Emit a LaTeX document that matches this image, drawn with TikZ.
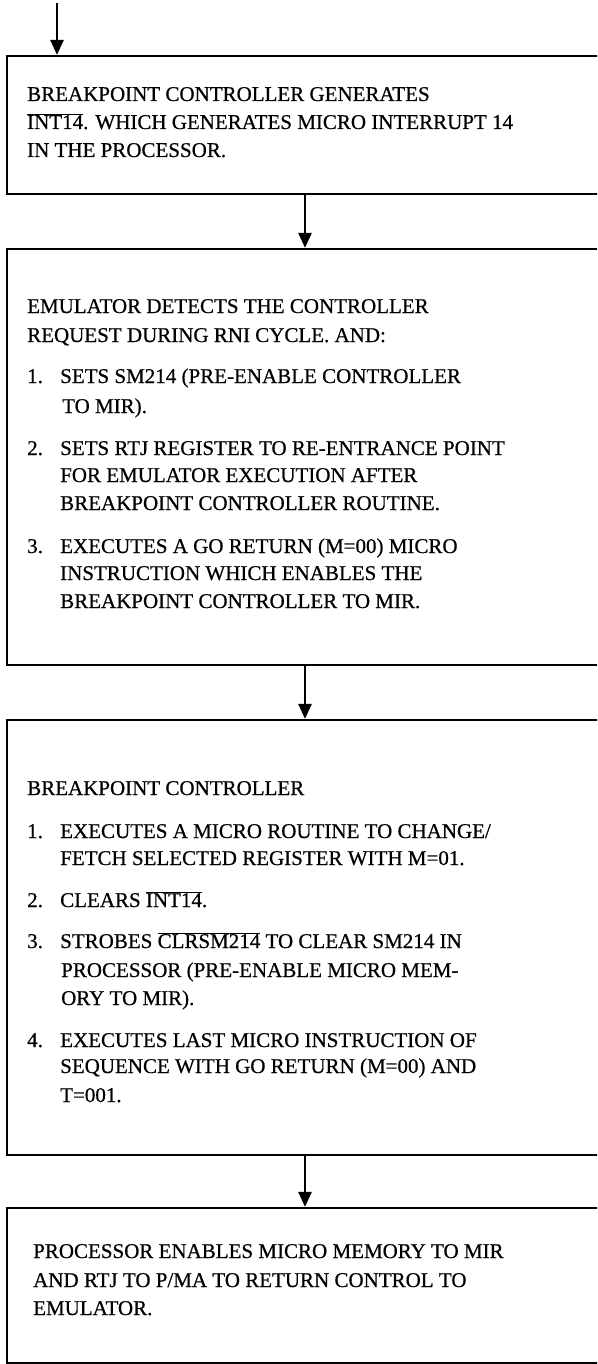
\documentclass[tikz,border=0pt]{standalone}
\usepackage{fontspec}
\setmainfont{Liberation Serif}[FakeBold=0.6]
\usetikzlibrary{arrows.meta}

% signal names with an active-low bar
\newcommand{\ovl}[1]{$\overline{\hbox{#1}}$}

\tikzset{
  stepbox/.style={draw, line width=2.2pt, rectangle, inner sep=0pt, minimum width=613pt},
  txt/.style={anchor=base west, inner sep=0pt, font=\fontsize{21}{28}\selectfont},
  flow/.style={line width=2.6pt, -{Triangle[length=15pt,width=13pt]}}
}

\begin{document}
\begin{tikzpicture}[x=1pt, y=-1pt]
\clip (0,0) rectangle (597,1364);

% process boxes (they run past the right edge)
\node[stepbox, minimum height=138pt] (b1) at (313.5,125) {};
\node[stepbox, minimum height=416pt] (b2) at (313.5,457) {};
\node[stepbox, minimum height=435pt] (b3) at (313.5,937.5) {};
\node[stepbox, minimum height=155pt] (b4) at (313.5,1285.5) {};

% connectors
\coordinate (entry) at (57,3);
\coordinate (mid) at (305,0);
\draw[flow] (entry) -- (b1.north -| entry);
\draw[flow] (b1.south -| mid) -- (b2.north -| mid);
\draw[flow] (b2.south -| mid) -- (b3.north -| mid);
\draw[flow] (b3.south -| mid) -- (b4.north -| mid);

% box 1
\node[txt] (t11) at (27,101) {BREAKPOINT CONTROLLER GENERATES};
\node[txt] (t12) at (27,129) {\ovl{INT14}. WHICH GENERATES MICRO INTERRUPT 14};
\node[txt] (t13) at (27,157) {IN THE PROCESSOR.};

% box 2
\node[txt] (t21) at (27,313) {EMULATOR DETECTS THE CONTROLLER};
\node[txt] (t22) at (27,342) {REQUEST DURING RNI CYCLE. AND:};
\node[txt] (n21) at (27,383) {1.};
\node[txt] (t23) at (60,383) {SETS SM214 (PRE-ENABLE CONTROLLER};
\node[txt] (t24) at (62,413) {TO MIR).};
\node[txt] (n22) at (27,455) {2.};
\node[txt] (t25) at (60,455) {SETS RTJ REGISTER TO RE-ENTRANCE POINT};
\node[txt] (t26) at (60,482) {FOR EMULATOR EXECUTION AFTER};
\node[txt] (t27) at (60,510) {BREAKPOINT CONTROLLER ROUTINE.};
\node[txt] (n23) at (27,553) {3.};
\node[txt] (t28) at (60,553) {EXECUTES A GO RETURN (M=00) MICRO};
\node[txt] (t29) at (60,580) {INSTRUCTION WHICH ENABLES THE};
\node[txt] (t2a) at (60,608) {BREAKPOINT CONTROLLER TO MIR.};

% box 3
\node[txt] (t31) at (27,795) {BREAKPOINT CONTROLLER};
\node[txt] (n31) at (27,838) {1.};
\node[txt] (t32) at (60,838) {EXECUTES A MICRO ROUTINE TO CHANGE/};
\node[txt] (t33) at (60,865) {FETCH SELECTED REGISTER WITH M=01.};
\node[txt] (n32) at (27,907) {2.};
\node[txt] (t34) at (60,907) {CLEARS \ovl{INT14}.};
\node[txt] (n33) at (27,948) {3.};
\node[txt] (t35) at (60,948) {STROBES \ovl{CLRSM214} TO CLEAR SM214 IN};
\node[txt] (t36) at (61,977) {PROCESSOR (PRE-ENABLE MICRO MEM-};
\node[txt] (t37) at (61,1005) {ORY TO MIR).};
\node[txt] (n34) at (27,1047) {4.};
\node[txt] (t38) at (60,1047) {EXECUTES LAST MICRO INSTRUCTION OF};
\node[txt] (t39) at (60,1073) {SEQUENCE WITH GO RETURN (M=00) AND};
\node[txt] (t3a) at (60,1102) {T=001.};

% box 4
\node[txt] (t41) at (33,1258) {PROCESSOR ENABLES MICRO MEMORY TO MIR};
\node[txt] (t42) at (33,1287) {AND RTJ TO P/MA TO RETURN CONTROL TO};
\node[txt] (t43) at (33,1315) {EMULATOR.};
\end{tikzpicture}
\end{document}
